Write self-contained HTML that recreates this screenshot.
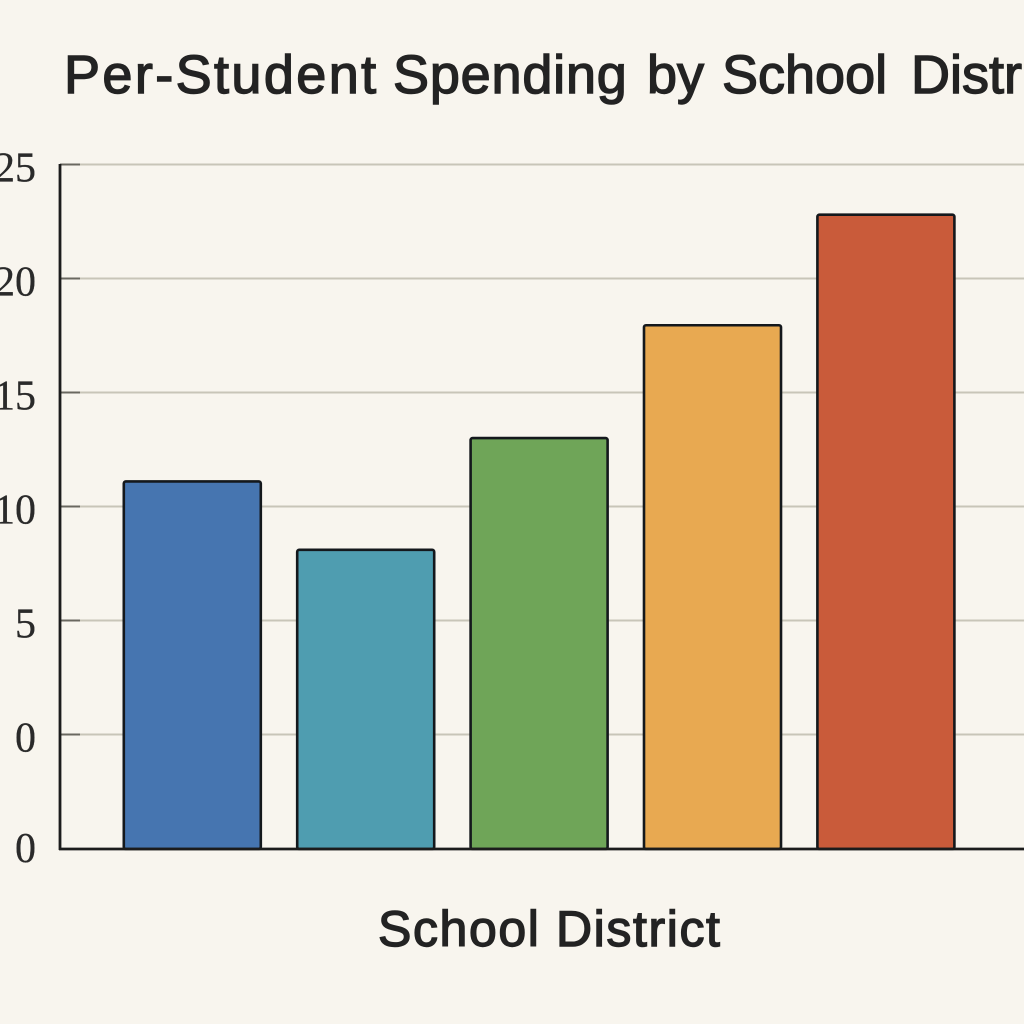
<!DOCTYPE html>
<html lang="en">
<head>
<meta charset="utf-8">
<title>Per-Student Spending by School District</title>
<style>
html,body{margin:0;padding:0;background:#f8f5ee;}
svg{display:block;}
.sans{font-family:"Liberation Sans",sans-serif;fill:#232323;stroke:#232323;stroke-width:1.4px;}
.tick{font-family:"Liberation Serif",serif;font-size:42px;fill:#2a2a2a;stroke:#2a2a2a;stroke-width:.3px;text-anchor:end;}
</style>
</head>
<body>
<svg id="chart" xmlns="http://www.w3.org/2000/svg" width="1024" height="1024" viewBox="0 0 1024 1024">
  <rect width="1024" height="1024" fill="#f8f5ee"/>
  <text class="sans" y="93" font-size="54"><tspan x="64" letter-spacing="2.4">Per-Student</tspan> <tspan x="393" letter-spacing="0.8">Spending</tspan> <tspan x="647">by</tspan> <tspan x="722">School</tspan> <tspan x="911">District</tspan></text>
  <g id="grid"></g>
  <g id="ticks"></g>
  <g id="bars"></g>
  <line x1="60" y1="164" x2="60" y2="850" stroke="#1c1c1c" stroke-width="2.8"/>
  <line x1="59" y1="849" x2="1024" y2="849" stroke="#1c1c1c" stroke-width="2.8"/>
  <text class="sans" x="378" y="946" font-size="50" letter-spacing="1.6">School District</text>
</svg>
<script>
var categories = ["District A", "District B", "District C", "District D", "District E"];
var spending = [11.1, 8.1, 13, 17.95, 22.8];
var barColors = ["#4675b0", "#4f9db0", "#6fa558", "#e8a951", "#c95b3a"];
var tickValues = [25, 20, 15, 10, 5, 0];
var tickLabels = ["25", "20", "15", "10", "5", "0"];
var baselineLabel = "0";

var NS = "http://www.w3.org/2000/svg";
var baselineY = 849;
function yScale(v) { return 734.5 - v * 22.8; }
function xCenter(i) { return 192.3 + i * 173.4; }
var barWidth = 137;

var grid = document.getElementById("grid");
var ticks = document.getElementById("ticks");
var bars = document.getElementById("bars");

tickValues.forEach(function (v, i) {
  var y = yScale(v);
  var line = document.createElementNS(NS, "line");
  
  
  line.setAttribute("x1", 60);
  line.setAttribute("x2", 1024);
  line.setAttribute("y1", y);
  line.setAttribute("y2", y);
  line.setAttribute("stroke", "#c8c5b8");
  line.setAttribute("stroke-width", 2);
  grid.appendChild(line);

  var mark = document.createElementNS(NS, "line");
  
  
  mark.setAttribute("x1", 60);
  mark.setAttribute("x2", 80);
  mark.setAttribute("y1", y);
  mark.setAttribute("y2", y);
  mark.setAttribute("stroke", "#6a6860");
  mark.setAttribute("stroke-width", 2);
  grid.appendChild(mark);

  var label = document.createElementNS(NS, "text");
  
  
  label.setAttribute("class", "tick");
  label.setAttribute("x", 36);
  label.setAttribute("y", y + 17);
  label.textContent = tickLabels[i];
  ticks.appendChild(label);
});

var baseText = document.createElementNS(NS, "text");


baseText.setAttribute("class", "tick");
baseText.setAttribute("x", 36);
baseText.setAttribute("y", baselineY + 13);
baseText.textContent = baselineLabel;
ticks.appendChild(baseText);

categories.forEach(function (c, i) {
  var top = yScale(spending[i]);
  var r = document.createElementNS(NS, "rect");
  
  
  r.setAttribute("x", xCenter(i) - barWidth / 2);
  r.setAttribute("y", top);
  r.setAttribute("width", barWidth);
  r.setAttribute("height", baselineY - top);
  r.setAttribute("rx", 2);
  r.setAttribute("fill", barColors[i]);
  r.setAttribute("stroke", "#14181c");
  r.setAttribute("stroke-width", 2.6);
  bars.appendChild(r);
});
</script>
</body>
</html>
